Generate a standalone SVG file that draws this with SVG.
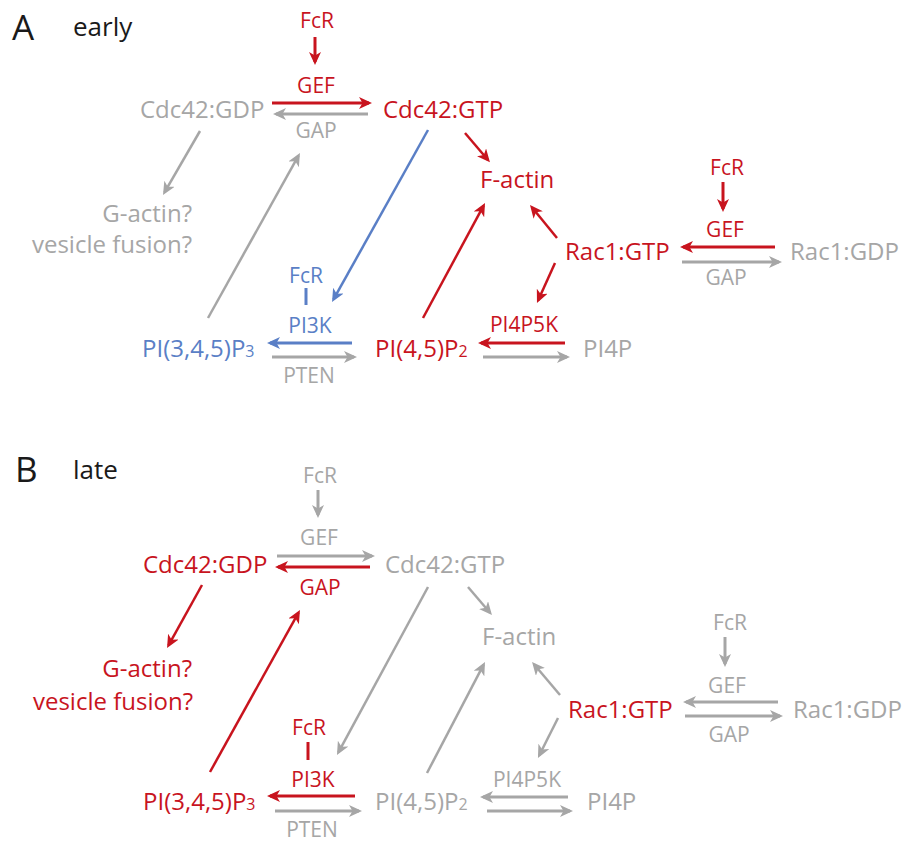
<svg xmlns="http://www.w3.org/2000/svg" width="904" height="842" viewBox="0 0 904 842">
  <style>
    text { font-family: "Open Sans", "Noto Sans", "Liberation Sans", sans-serif; }
    .node { font-size: 24px; }
    .lab { font-size: 21px; text-anchor: middle; }
    .panel { font-size: 35px; fill: #1a1a1a; }
    .stage { font-size: 26px; fill: #1a1a1a; }
    .red { fill: #c8141e; }
    .gray { fill: #a6a6a6; }
    .blue { fill: #5a7fc6; }
    .sub { font-size: 16px; }
    .c { fill: none; stroke-linecap: butt; }
    .h { stroke-width: 3; }
    .d { stroke-width: 2.5; }
    .cr { stroke: #c8141e; }
    .cg { stroke: #a6a6a6; }
    .cb { stroke: #5a7fc6; }
    .ar { marker-end: url(#hr); }
    .ag { marker-end: url(#hg); }
    .ab { marker-end: url(#hb); }
  </style>
  <defs>
    <marker id="hr" viewBox="0 0 13 12" markerWidth="13" markerHeight="12" refX="10" refY="6" orient="auto" markerUnits="userSpaceOnUse">
      <path d="M0,0 L13,6 L0,12 L3.5,6 Z" fill="#c8141e"/>
    </marker>
    <marker id="hg" viewBox="0 0 13 12" markerWidth="13" markerHeight="12" refX="10" refY="6" orient="auto" markerUnits="userSpaceOnUse">
      <path d="M0,0 L13,6 L0,12 L3.5,6 Z" fill="#a6a6a6"/>
    </marker>
    <marker id="hb" viewBox="0 0 13 12" markerWidth="13" markerHeight="12" refX="10" refY="6" orient="auto" markerUnits="userSpaceOnUse">
      <path d="M0,0 L13,6 L0,12 L3.5,6 Z" fill="#5a7fc6"/>
    </marker>
  </defs>
  <rect width="904" height="842" fill="#ffffff"/>

  <!-- Panel A: early -->
  <g id="panelA-title">
    <text class="panel" x="12" y="40">A</text>
    <text class="stage" x="73" y="36">early</text>
  </g>
  <g id="a-cdc42-gdp"><text class="node gray" x="140" y="118">Cdc42:GDP</text></g>
  <g id="a-cdc42-gtp"><text class="node red" x="383" y="118">Cdc42:GTP</text></g>
  <g id="a-fcr-cdc42"><text class="lab red" x="317" y="28">FcR</text></g>
  <g id="a-gef-cdc42"><text class="lab red" x="316" y="93">GEF</text></g>
  <g id="a-gap-cdc42"><text class="lab gray" x="316" y="138">GAP</text></g>
  <g id="a-gactin">
    <text class="node gray" x="192" y="222" text-anchor="end">G-actin?</text>
    <text class="node gray" x="192" y="253" text-anchor="end">vesicle fusion?</text>
  </g>
  <g id="a-factin"><text class="node red" x="480" y="188">F-actin</text></g>
  <g id="a-rac1-gtp"><text class="node red" x="565" y="260">Rac1:GTP</text></g>
  <g id="a-rac1-gdp"><text class="node gray" x="790" y="260">Rac1:GDP</text></g>
  <g id="a-fcr-rac1"><text class="lab red" x="727" y="175">FcR</text></g>
  <g id="a-gef-rac1"><text class="lab red" x="725" y="237">GEF</text></g>
  <g id="a-gap-rac1"><text class="lab gray" x="726" y="285">GAP</text></g>
  <g id="a-fcr-pi3k"><text class="lab blue" x="306" y="283">FcR</text></g>
  <g id="a-pi3k"><text class="lab blue" x="310" y="333">PI3K</text></g>
  <g id="a-pten"><text class="lab gray" x="309" y="383">PTEN</text></g>
  <g id="a-pip3"><text class="node blue" x="142" y="357">PI(3,4,5)P<tspan class="sub">3</tspan></text></g>
  <g id="a-pip2"><text class="node red" x="375" y="357">PI(4,5)P<tspan class="sub">2</tspan></text></g>
  <g id="a-pi4p5k"><text class="lab red" x="524" y="332">PI4P5K</text></g>
  <g id="a-pi4p"><text class="node gray" x="583" y="357">PI4P</text></g>

  <!-- Panel B: late -->
  <g id="panelB-title">
    <text class="panel" x="15" y="482">B</text>
    <text class="stage" x="73" y="479">late</text>
  </g>
  <g id="b-cdc42-gdp"><text class="node red" x="143" y="573">Cdc42:GDP</text></g>
  <g id="b-cdc42-gtp"><text class="node gray" x="385" y="573">Cdc42:GTP</text></g>
  <g id="b-fcr-cdc42"><text class="lab gray" x="320" y="483">FcR</text></g>
  <g id="b-gef-cdc42"><text class="lab gray" x="319" y="545">GEF</text></g>
  <g id="b-gap-cdc42"><text class="lab red" x="320" y="595">GAP</text></g>
  <g id="b-gactin">
    <text class="node red" x="192" y="677" text-anchor="end">G-actin?</text>
    <text class="node red" x="193" y="710" text-anchor="end">vesicle fusion?</text>
  </g>
  <g id="b-factin"><text class="node gray" x="482" y="645">F-actin</text></g>
  <g id="b-rac1-gtp"><text class="node red" x="568" y="718">Rac1:GTP</text></g>
  <g id="b-rac1-gdp"><text class="node gray" x="793" y="718">Rac1:GDP</text></g>
  <g id="b-fcr-rac1"><text class="lab gray" x="730" y="630">FcR</text></g>
  <g id="b-gef-rac1"><text class="lab gray" x="727" y="693">GEF</text></g>
  <g id="b-gap-rac1"><text class="lab gray" x="729" y="742">GAP</text></g>
  <g id="b-fcr-pi3k"><text class="lab red" x="309" y="735">FcR</text></g>
  <g id="b-pi3k"><text class="lab red" x="313" y="787">PI3K</text></g>
  <g id="b-pten"><text class="lab gray" x="312" y="837">PTEN</text></g>
  <g id="b-pip3"><text class="node red" x="143" y="810">PI(3,4,5)P<tspan class="sub">3</tspan></text></g>
  <g id="b-pip2"><text class="node gray" x="375" y="810">PI(4,5)P<tspan class="sub">2</tspan></text></g>
  <g id="b-pi4p5k"><text class="lab gray" x="527" y="787">PI4P5K</text></g>
  <g id="b-pi4p"><text class="node gray" x="587" y="810">PI4P</text></g>

  <!-- Connectors -->
  <g id="connectors">
    <!-- A: Cdc42 cycle -->
    <line class="c h cr ar" x1="315" y1="37" x2="315" y2="62"/>
    <line class="c h cr ar" x1="272" y1="103" x2="369" y2="103"/>
    <line class="c h cg ag" x1="368" y1="114" x2="276" y2="114"/>
    <line class="c d cr ar" x1="465" y1="133" x2="488" y2="160"/>
    <line class="c d cg ag" x1="200" y1="131" x2="164.5" y2="192.4"/>
    <line class="c d cg ag" x1="208" y1="318" x2="298.5" y2="155.6"/>
    <line class="c d cb ab" x1="428" y1="130" x2="333.5" y2="299.4"/>
    <!-- A: phosphoinositides -->
    <line class="c h cb" x1="306" y1="288" x2="306" y2="305"/>
    <line class="c h cb ab" x1="352" y1="343" x2="270" y2="343"/>
    <line class="c h cg ag" x1="272" y1="357" x2="354" y2="357"/>
    <line class="c d cr ar" x1="423" y1="318" x2="483.6" y2="205.6"/>
    <line class="c h cr ar" x1="565" y1="343" x2="481" y2="343"/>
    <line class="c h cg ag" x1="483" y1="357" x2="567" y2="357"/>
    <!-- A: Rac1 cycle -->
    <line class="c d cr ar" x1="557" y1="238" x2="531.9" y2="207.3"/>
    <line class="c d cr ar" x1="555" y1="263" x2="538.2" y2="300.3"/>
    <line class="c h cr ar" x1="723" y1="182" x2="723" y2="209"/>
    <line class="c h cr ar" x1="775" y1="247" x2="683" y2="247"/>
    <line class="c h cg ag" x1="682" y1="262" x2="779" y2="262"/>

    <!-- B: Cdc42 cycle -->
    <line class="c h cg ag" x1="318" y1="490" x2="318" y2="515"/>
    <line class="c h cg ag" x1="277" y1="556" x2="372" y2="556"/>
    <line class="c h cr ar" x1="370" y1="567" x2="278" y2="567"/>
    <line class="c d cr ar" x1="202" y1="585" x2="168.5" y2="645.4"/>
    <line class="c d cr ar" x1="210" y1="772" x2="298.5" y2="612.6"/>
    <line class="c d cg ag" x1="428" y1="587" x2="338.4" y2="752.4"/>
    <line class="c d cg ag" x1="468" y1="587" x2="490" y2="612.7"/>
    <!-- B: phosphoinositides -->
    <line class="c h cr" x1="308" y1="742" x2="308" y2="760"/>
    <line class="c h cr ar" x1="355" y1="796" x2="270" y2="796"/>
    <line class="c h cg ag" x1="275" y1="811" x2="359" y2="811"/>
    <line class="c d cg ag" x1="427" y1="773" x2="483.6" y2="664.7"/>
    <line class="c h cg ag" x1="568" y1="797" x2="483" y2="797"/>
    <line class="c h cg ag" x1="487" y1="811" x2="570" y2="811"/>
    <!-- B: Rac1 cycle -->
    <line class="c d cg ag" x1="560" y1="695" x2="534" y2="664.3"/>
    <line class="c d cg ag" x1="558" y1="718" x2="539.3" y2="755.3"/>
    <line class="c h cg ag" x1="725" y1="637" x2="725" y2="664"/>
    <line class="c h cg ag" x1="778" y1="702" x2="686" y2="702"/>
    <line class="c h cg ag" x1="685" y1="716" x2="780" y2="716"/>
  </g>
</svg>
